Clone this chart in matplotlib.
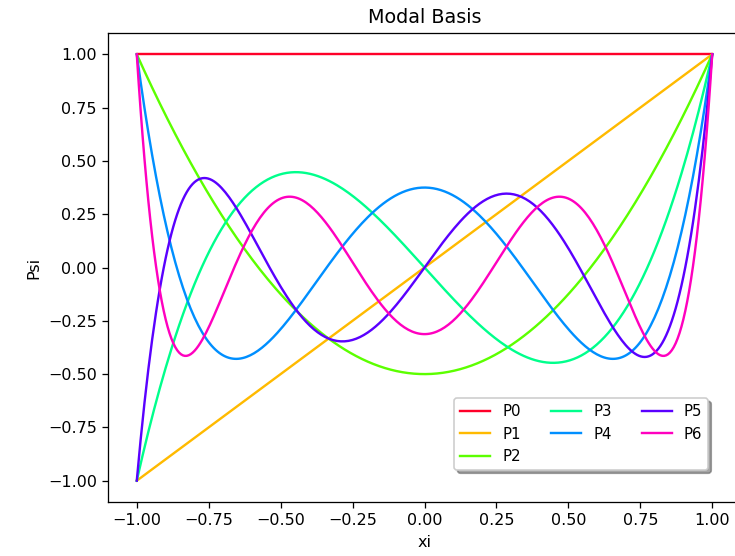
import matplotlib

matplotlib.use("Agg")
import matplotlib.pyplot as plt
import numpy as np

# power-series coefficients (constant term first) of each mode
labels = ["P0", "P1", "P2", "P3", "P4", "P5", "P6"]
coeffs = [
    [1.0],
    [0.0, 1.0],
    [-0.5, 0.0, 1.5],
    [0.0, -1.5, 0.0, 2.5],
    [0.375, 0.0, -3.75, 0.0, 4.375],
    [0.0, 1.875, 0.0, -8.75, 0.0, 7.875],
    [-0.3125, 0.0, 6.5625, 0.0, -19.6875, 0.0, 14.4375],
]
xi_range = (-1.0, 1.0)

dpi = 115
fig = plt.figure(figsize=(735 / dpi, 556 / dpi), dpi=dpi)
ax = fig.add_axes([108 / 735, 54 / 556, 633 / 735, 469 / 556])

xi = np.linspace(xi_range[0], xi_range[1], 300)
colors = plt.cm.gist_rainbow(np.linspace(0, 1, len(labels)))
for label, c, col in zip(labels, coeffs, colors):
    psi = np.polynomial.polynomial.polyval(xi, c) * np.ones_like(xi)
    ax.plot(xi, psi, color=col, label=label)

ax.set_title("Modal Basis")
ax.set_xlabel("xi")
ax.set_ylabel("Psi")
ax.legend(ncol=3, loc="lower right", bbox_to_anchor=(0.948, 0.068),
          borderaxespad=0, shadow=True, fontsize=9.4)

fig.savefig("out.png", dpi=dpi)
